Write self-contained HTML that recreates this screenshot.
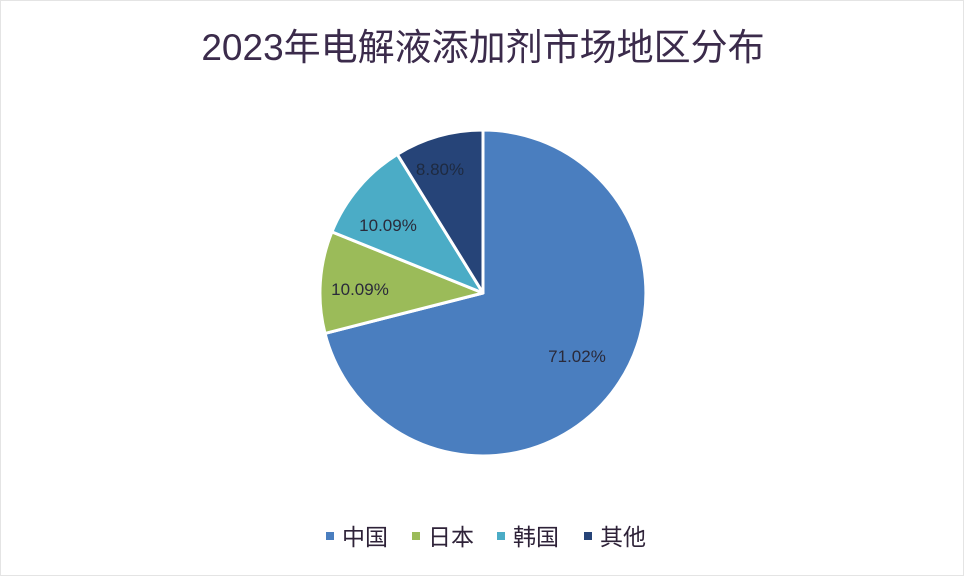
<!DOCTYPE html>
<html><head><meta charset="utf-8"><style>
html,body{margin:0;padding:0;background:#fff;}
body{width:964px;height:576px;overflow:hidden;font-family:"Liberation Sans","Noto Sans CJK SC",sans-serif;}
</style></head><body>
<svg width="964" height="576" viewBox="0 0 964 576">
<rect x="0.5" y="0.5" width="963" height="575" fill="#fff" stroke="#e4e4e4"/>
<text x="483" y="60" text-anchor="middle" font-size="37" fill="#3b2b4b" font-family="Liberation Sans, Noto Sans CJK SC, sans-serif">2023年电解液添加剂市场地区分布</text>
<g stroke="#fff" stroke-width="3" stroke-linejoin="round">
<path d="M483,293 L483,130 A163,163 0 1 1 325,333.4 Z" fill="#4a7ebf"/>
<path d="M483,293 L325,333.4 A163,163 0 0 1 331.9,231.9 Z" fill="#9bbb59"/>
<path d="M483,293 L331.9,231.9 A163,163 0 0 1 397.3,154.3 Z" fill="#4bacc6"/>
<path d="M483,293 L397.3,154.3 A163,163 0 0 1 483,130 Z" fill="#264478"/>
</g>
<g font-size="17" fill="#2a2a3a" text-anchor="middle">
<text x="577" y="362">71.02%</text>
<text x="360" y="295">10.09%</text>
<text x="388" y="231">10.09%</text>
<text x="440" y="175" fill="#1e2a40">8.80%</text>
</g>
<g font-size="23" fill="#2e2238" font-family="Liberation Sans, Noto Sans CJK SC, sans-serif">
<rect x="326" y="532" width="8" height="8" fill="#4a7ebf"/><text x="342" y="545">中国</text>
<rect x="412" y="532" width="8" height="8" fill="#9bbb59"/><text x="428" y="545">日本</text>
<rect x="497" y="532" width="8" height="8" fill="#4bacc6"/><text x="513" y="545">韩国</text>
<rect x="584" y="532" width="8" height="8" fill="#264478"/><text x="600" y="545">其他</text>
</g>
</svg>
</body></html>
